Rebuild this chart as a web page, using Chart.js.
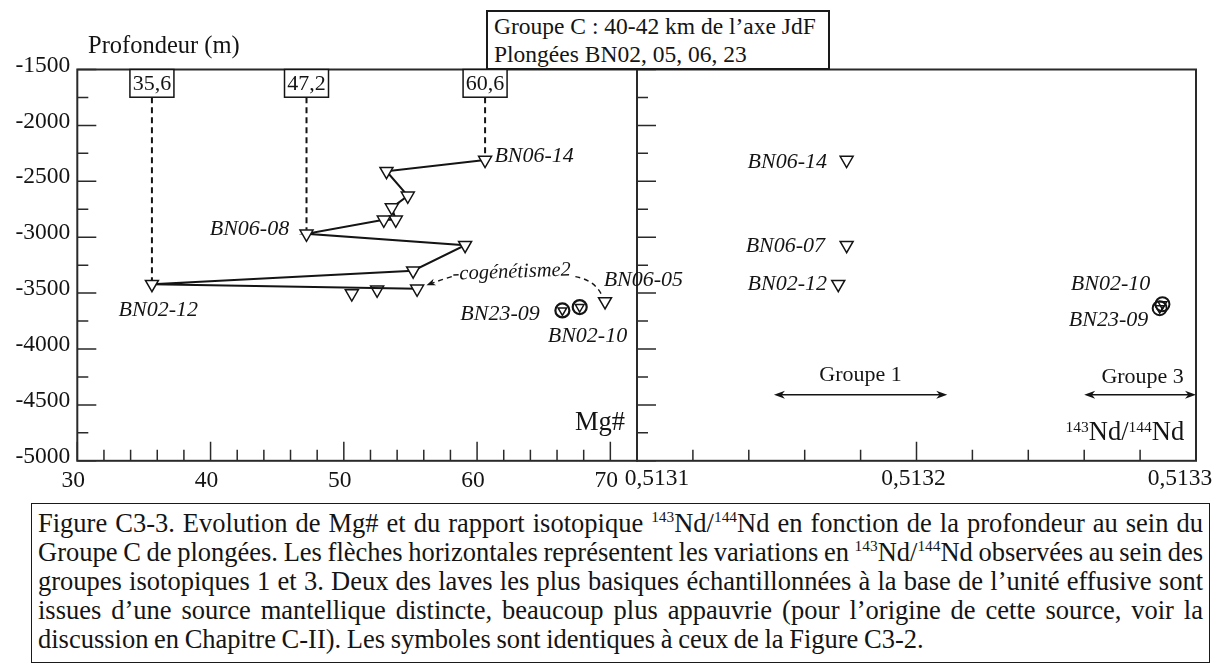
<!DOCTYPE html>
<html>
<head>
<meta charset="utf-8">
<title>Groupe C - Mg# et 143Nd/144Nd en fonction de la profondeur</title>
<script src="https://cdn.jsdelivr.net/npm/chart.js@4.4.1/dist/chart.umd.min.js"></script>
<style>
  html, body { margin: 0; padding: 0; background: #fff; }
  body { position: relative; width: 1220px; height: 666px; overflow: hidden;
         font-family: "Liberation Serif", "Times New Roman", serif; color: #141414; }
  canvas { position: absolute; top: 0; }
  #mgChart { left: 0; z-index: 2; }
  #ndChart { left: 560px; z-index: 1; }
  .ylabel { position: absolute; left: 88px; top: 31px; font-size: 24.5px; line-height: 28px; z-index: 3; }
  .title-box { position: absolute; left: 486px; top: 10px; box-sizing: border-box; width: 344px; height: 60px;
               border: 2px solid #1a1a1a; background: #fff; padding: 0 6px; font-size: 23.5px; line-height: 28px; z-index: 3; }
  .caption { position: absolute; left: 31px; top: 503px; box-sizing: border-box; width: 1179px; height: 160px;
             border: 1.5px solid #1a1a1a; padding: 5px 6px 0; font-size: 27px; word-spacing: -1px; z-index: 3; }
  .caption div { white-space: nowrap; height: 29px; line-height: 29px; text-align: justify; text-align-last: justify; }
  .caption div.last, .caption.measure div { text-align-last: left; }
  sup { font-size: 0.58em; line-height: 0; vertical-align: 0; position: relative; top: -0.62em; }
</style>
</head>
<body>
<canvas id="ndChart" width="660" height="500"></canvas>
<canvas id="mgChart" width="720" height="500"></canvas>

<div class="ylabel">Profondeur (m)</div>
<div class="title-box">Groupe C : 40-42 km de l’axe JdF<br>Plongées BN02, 05, 06, 23</div>

<div class="caption" id="caption">
  <div><span>Figure C3-3. Evolution de Mg# et du rapport isotopique <sup>143</sup>Nd/<sup>144</sup>Nd en fonction de la profondeur au sein du</span></div>
  <div><span>Groupe C de plongées. Les flèches horizontales représentent les variations en <sup>143</sup>Nd/<sup>144</sup>Nd observées au sein des</span></div>
  <div><span>groupes isotopiques 1 et 3. Deux des laves les plus basiques échantillonnées à la base de l’unité effusive sont</span></div>
  <div><span>issues d’une source mantellique distincte, beaucoup plus appauvrie (pour l’origine de cette source, voir la</span></div>
  <div class="last"><span>discussion en Chapitre C-II). Les symboles sont identiques à ceux de la Figure C3-2.</span></div>
</div>

<script>
// --- data ---
// Mg# profile, joined by the solid line (shallow -> deep)
const profileMg    = [60.6, 53.2, 54.8, 53.6, 53.9, 53.0, 47.2, 59.1, 55.2, 35.6, 55.5];
const profileDepth = [-2310, -2410, -2630, -2735, -2845, -2845, -2970, -3072, -3300, -3420, -3462];
// other group C triangles
const otherMg    = [52.5, 50.6, 69.6];
const otherDepth = [-3471, -3504, -3575];
// the two depleted lavas (circle + triangle)
const depletedMg    = [66.4, 67.7];
const depletedDepth = [-3655, -3625];

// 143Nd/144Nd panel
const ndRatio = [0.513175, 0.513175, 0.513172];
const ndDepth = [-2310, -3072, -3420];
const depletedNd      = [0.513287, 0.513288];
const depletedNdDepth = [-3635, -3600];

// boxed Mg# values with their drop lines
const boxedMg    = [35.6, 47.2, 60.6];
const boxedDepth = [-3420, -2970, -2310];

// isotopic group ranges (arrows)
const group1Range = [0.513149, 0.513211];
const group3Range = [0.51326, 0.5133];
const groupDepth  = -4410;

// tick labels
const depthTickLabels = [-1500, -2000, -2500, -3000, -3500, -4000, -4500, -5000];
const mgTickLabels    = [30, 40, 50, 60, 70];
const ndTickLabels    = [0.5131, 0.5132, 0.5133];

// --- styling ---
const SERIF = '"Liberation Serif", "Times New Roman", serif';
const INK = '#141414';
const AXIS = '#2a2a2a';
const TICK_SIZE = 23.5;
const ndLabelShift = [20, -3, -16];

const pts = (xs, ys) => xs.map((x, i) => ({ x: x, y: ys[i] }));
const isNdLabel = v => ndTickLabels.some(t => Math.abs(t - v) < 1e-9);
const ndText = v => v.toFixed(4).replace('.', ',');

function triangles(data, extra) {
  return Object.assign({
    data: data,
    showLine: false,
    pointStyle: 'triangle',
    rotation: 180,
    pointRadius: 7.5,
    pointBackgroundColor: '#fff',
    pointBorderColor: INK,
    pointBorderWidth: 1.5
  }, extra || {});
}

function depthScale(withLabels) {
  return {
    type: 'linear',
    min: -5000,
    max: -1500,
    grid: { display: false, drawTicks: false },
    border: { display: false },
    ticks: {
      stepSize: 250,
      autoSkip: false,
      display: withLabels,
      padding: 7,
      labelOffset: -4,
      color: INK,
      font: { family: SERIF, size: TICK_SIZE },
      callback: v => depthTickLabels.includes(v) ? String(v) : ''
    },
    afterFit: s => { s.width = withLabels ? 77.3 : 0; }
  };
}

// frame + inward tick marks, taken from the scales
const framePlugin = {
  id: 'frame',
  beforeDatasetsDraw(chart) {
    const { ctx, chartArea: a, scales: { x, y } } = chart;
    ctx.save();
    ctx.strokeStyle = AXIS;
    ctx.lineWidth = 1.5;
    ctx.beginPath();
    x.ticks.forEach(t => {
      const px = x.getPixelForValue(t.value);
      ctx.moveTo(px, a.bottom);
      ctx.lineTo(px, a.bottom - (t.label ? 19 : 11));
    });
    y.ticks.forEach(t => {
      const py = y.getPixelForValue(t.value);
      ctx.moveTo(a.left, py);
      ctx.lineTo(a.left + (t.label ? 19 : 11), py);
    });
    ctx.stroke();
    ctx.lineWidth = 2;
    ctx.strokeRect(a.left, a.top, a.right - a.left, a.bottom - a.top);
    ctx.restore();
  }
};

function text(ctx, str, x, y, size, align, italic) {
  ctx.font = (italic ? 'italic ' : '') + size + 'px ' + SERIF;
  ctx.textAlign = align;
  ctx.textBaseline = 'middle';
  ctx.fillText(str, x, y);
}

function arrowHead(ctx, x, y, angle, len, half) {
  ctx.save();
  ctx.translate(x, y);
  ctx.rotate(angle);
  ctx.beginPath();
  ctx.moveTo(0, 0);
  ctx.lineTo(-len, -half);
  ctx.lineTo(-len * 0.7, 0);
  ctx.lineTo(-len, half);
  ctx.closePath();
  ctx.fill();
  ctx.restore();
}

const mgDecor = {
  id: 'mgDecor',
  afterDatasetsDraw(chart) {
    const { ctx, scales: { x, y } } = chart;
    const X = v => x.getPixelForValue(v), Y = v => y.getPixelForValue(v);
    ctx.save();
    ctx.strokeStyle = INK;
    ctx.fillStyle = INK;

    // boxed values and dashed drop lines
    boxedMg.forEach((v, i) => {
      const cx = X(v), top = Y(-1500), bottom = Y(-1748);
      ctx.setLineDash([6, 4]);
      ctx.lineWidth = 2;
      ctx.beginPath();
      ctx.moveTo(cx, bottom);
      ctx.lineTo(cx, Y(boxedDepth[i]) - 4);
      ctx.stroke();
      ctx.setLineDash([]);
      ctx.lineWidth = 1.5;
      ctx.fillStyle = '#fff';
      ctx.fillRect(cx - 22, top, 44, bottom - top);
      ctx.strokeRect(cx - 22, top, 44, bottom - top);
      ctx.fillStyle = INK;
      text(ctx, v.toFixed(1).replace('.', ','), cx, (top + bottom) / 2 + 1, 22, 'center', false);
    });

    // cogenetism arrow
    ctx.setLineDash([5, 4]);
    ctx.lineWidth = 1.4;
    ctx.beginPath();
    ctx.moveTo(X(69.3), Y(-3505));
    ctx.quadraticCurveTo(X(68.7), Y(-3370), X(67.1), Y(-3348));
    ctx.stroke();
    ctx.beginPath();
    ctx.moveTo(X(58.1), Y(-3352));
    ctx.quadraticCurveTo(X(57.2), Y(-3385), X(56.4), Y(-3422));
    ctx.stroke();
    ctx.setLineDash([]);
    const ang = Math.atan2(Y(-3422) - Y(-3385), X(56.4) - X(57.2));
    arrowHead(ctx, X(56.2), Y(-3430), ang, 9, 3.5);

    ctx.save();
    ctx.translate(X(62.6), Y(-3313));
    ctx.rotate(-0.035);
    text(ctx, '-cogénétisme2', 0, 0, 20.5, 'center', true);
    ctx.restore();

    // sample names
    text(ctx, 'BN06-14', X(61.3), Y(-2280), 22, 'left', true);
    text(ctx, 'BN06-08', X(45.9), Y(-2930), 22, 'right', true);
    text(ctx, 'BN02-12', X(33.1), Y(-3655), 22, 'left', true);
    text(ctx, 'BN06-05', X(69.5), Y(-3385), 22, 'left', true);
    text(ctx, 'BN23-09', X(64.7), Y(-3690), 22, 'right', true);
    text(ctx, 'BN02-10', X(65.3), Y(-3887), 22, 'left', true);

    text(ctx, 'Mg#', X(71.1), Y(-4663), 26.5, 'right', false);
    ctx.restore();
  }
};

const ndDecor = {
  id: 'ndDecor',
  afterDatasetsDraw(chart) {
    const { ctx, chartArea: a, scales: { x, y } } = chart;
    const X = v => x.getPixelForValue(v), Y = v => y.getPixelForValue(v);
    ctx.save();
    ctx.fillStyle = INK;
    ctx.strokeStyle = INK;

    // x tick labels, nudged like the original
    ctx.font = TICK_SIZE + 'px ' + SERIF;
    ctx.textAlign = 'center';
    ctx.textBaseline = 'top';
    x.ticks.filter(t => t.label).forEach((t, i) => {
      ctx.fillText(t.label, x.getPixelForValue(t.value) + ndLabelShift[i], a.bottom + 6);
    });

    text(ctx, 'BN06-14', X(0.513168), Y(-2330), 22, 'right', true);
    text(ctx, 'BN06-07', X(0.5131673), Y(-3080), 22, 'right', true);
    text(ctx, 'BN02-12', X(0.513168), Y(-3422), 22, 'right', true);
    text(ctx, 'BN02-10', X(0.5132552), Y(-3425), 22, 'left', true);
    text(ctx, 'BN23-09', X(0.5132545), Y(-3740), 22, 'left', true);

    // group ranges
    ctx.lineWidth = 1.5;
    [group1Range, group3Range].forEach(r => {
      const x0 = X(r[0]), x1 = X(r[1]), yy = Y(groupDepth);
      ctx.beginPath();
      ctx.moveTo(x0 + 4, yy);
      ctx.lineTo(x1 - 4, yy);
      ctx.stroke();
      arrowHead(ctx, x1, yy, 0, 11, 4);
      arrowHead(ctx, x0, yy, Math.PI, 11, 4);
    });
    text(ctx, 'Groupe 1', X((group1Range[0] + group1Range[1]) / 2), Y(-4236), 22, 'center', false);
    text(ctx, 'Groupe 3', X(0.5132809), Y(-4250), 22, 'center', false);

    // 143Nd/144Nd axis title
    const parts = [['143', 15.5, -8], ['Nd/', 26.5, 0], ['144', 15.5, -8], ['Nd', 26.5, 0]];
    let w = 0;
    parts.forEach(p => { ctx.font = p[1] + 'px ' + SERIF; w += ctx.measureText(p[0]).width; });
    let cx = X(0.5132958) - w;
    const base = Y(-4730) + 9;
    ctx.textAlign = 'left';
    ctx.textBaseline = 'alphabetic';
    parts.forEach(p => {
      ctx.font = p[1] + 'px ' + SERIF;
      ctx.fillText(p[0], cx, base + p[2]);
      cx += ctx.measureText(p[0]).width;
    });
    ctx.restore();
  }
};

const common = {
  responsive: false,
  animation: false,
  events: [],
  plugins: { legend: { display: false }, tooltip: { enabled: false } }
};

new Chart(document.getElementById('mgChart'), {
  type: 'scatter',
  data: {
    datasets: [
      triangles(pts(profileMg, profileDepth), { showLine: true, borderColor: INK, borderWidth: 2 }),
      triangles(pts(otherMg, otherDepth)),
      { data: pts(depletedMg, depletedDepth), pointStyle: 'circle', pointRadius: 7,
        pointBackgroundColor: 'rgba(0,0,0,0)', pointBorderColor: INK, pointBorderWidth: 2.2 },
      triangles(pts(depletedMg, depletedDepth), { pointRadius: 5, pointBackgroundColor: 'rgba(0,0,0,0)' })
    ]
  },
  options: Object.assign({}, common, {
    layout: { padding: { top: 69.5, right: 83, bottom: 8, left: 0 } },
    scales: {
      x: {
        type: 'linear',
        min: 30,
        max: 72,
        grid: { display: false, drawTicks: false },
        border: { display: false },
        ticks: {
          stepSize: 2,
          autoSkip: false,
          maxRotation: 0,
          padding: 6,
          labelOffset: -4,
          color: INK,
          font: { family: SERIF, size: TICK_SIZE },
          callback: v => mgTickLabels.includes(v) ? String(v) : ''
        },
        afterFit: s => { s.height = 31.2; }
      },
      y: depthScale(true)
    }
  }),
  plugins: [framePlugin, mgDecor]
});

new Chart(document.getElementById('ndChart'), {
  type: 'scatter',
  data: {
    datasets: [
      triangles(pts(ndRatio, ndDepth)),
      { data: pts(depletedNd, depletedNdDepth), pointStyle: 'circle', pointRadius: 7,
        pointBackgroundColor: 'rgba(0,0,0,0)', pointBorderColor: INK, pointBorderWidth: 2 },
      triangles(pts(depletedNd, depletedNdDepth), { pointRadius: 5, pointBackgroundColor: 'rgba(0,0,0,0)' })
    ]
  },
  options: Object.assign({}, common, {
    layout: { padding: { top: 69.5, right: 24, bottom: 8, left: 77 } },
    scales: {
      x: {
        type: 'linear',
        min: 0.5131,
        max: 0.5133,
        grid: { display: false, drawTicks: false },
        border: { display: false },
        ticks: {
          stepSize: 0.00002,
          autoSkip: false,
          display: false,
          callback: v => isNdLabel(v) ? ndText(v) : ''
        },
        afterFit: s => { s.height = 31.2; }
      },
      y: depthScale(false)
    }
  }),
  plugins: [framePlugin, ndDecor]
});

// keep the justified caption lines inside the box
(function fitCaption() {
  const box = document.getElementById('caption');
  box.classList.add('measure');
  const widest = Math.max(...[...box.querySelectorAll('span')].map(s => s.getBoundingClientRect().width));
  const avail = box.clientWidth - 12;
  if (widest > avail) box.style.fontSize = (27 * avail / widest) + 'px';
  box.classList.remove('measure');
})();
</script>
</body>
</html>
